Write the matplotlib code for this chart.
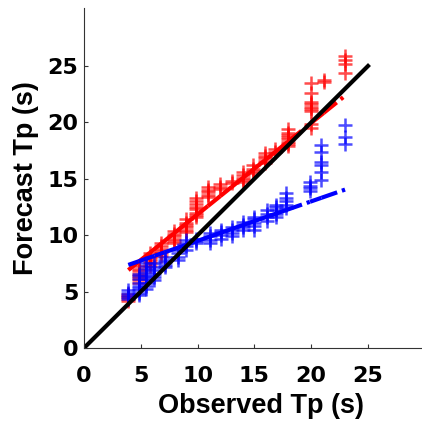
import numpy as np
import matplotlib
matplotlib.use('Agg')
import matplotlib.pyplot as plt
from matplotlib.collections import LineCollection

# observed Tp bins and the forecast Tp values found in each bin
red_obs = [3.9, 4.8, 5.8, 6.8, 7.9, 9.0, 9.9, 10.9, 12.0, 13.0, 14.0, 14.9,
           15.9, 16.8, 18.0, 20.0, 21.1, 23.0]
red_fc = [
    [4.2, 4.35, 4.5, 4.65, 4.8],
    [5.8, 6.0, 6.2, 6.4, 6.6, 6.8, 7.0, 7.3],
    [7.3, 7.5, 7.7, 7.9, 8.1, 8.4],
    [8.2, 8.4, 8.6, 8.8, 9.0, 9.3],
    [9.3, 9.5, 9.7, 9.9, 10.1, 10.4],
    [10.3, 10.5, 10.7, 10.9, 11.1, 11.4],
    [11.6, 11.8, 12.0, 12.3, 12.5, 12.8, 13.0, 13.3],
    [13.4, 13.6, 13.8, 14.0, 14.3],
    [14.1, 14.3, 14.5],
    [14.6, 14.8],
    [14.7, 14.9, 15.1, 15.3, 15.6],
    [15.5, 15.7, 15.9, 16.2],
    [16.4, 16.6, 16.8, 17.0, 17.3],
    [17.4, 17.6],
    [17.9, 18.1, 18.3, 18.5, 18.7, 18.9, 19.1, 19.4],
    [19.5, 19.9, 21.0, 21.2, 21.4, 21.6, 21.8, 22.6, 23.5],
    [23.6, 23.8],
    [24.4, 25.2, 25.5, 25.9],
]

blue_obs = [3.9, 4.8, 5.5, 6.2, 7.1, 8.3, 9.0, 9.9, 11.1, 12.1, 13.0, 14.0,
            15.0, 16.1, 16.9, 17.8, 19.9, 20.9, 23.0]
blue_fc = [
    [4.3, 4.5, 4.7, 4.9, 5.1],
    [4.7, 4.9, 5.1, 5.3, 5.5, 5.8, 6.1, 6.4, 6.6],
    [5.2, 5.5, 5.8, 6.1, 6.4, 6.7, 7.0, 7.3, 7.5],
    [6.0, 6.3, 6.6, 6.9, 7.2, 7.5],
    [7.2, 7.4, 7.6, 7.8, 8.1],
    [7.8, 8.1, 8.4, 8.7],
    [8.7, 9.0, 9.3, 9.6],
    [9.3, 9.5, 9.7],
    [9.3, 9.6, 9.9, 10.2],
    [9.7, 10.0, 10.3, 10.5],
    [9.9, 10.2, 10.5, 10.7],
    [10.5, 10.7, 10.9, 11.2],
    [10.5, 10.8, 11.1, 11.4, 11.6],
    [11.3, 11.6, 11.9, 12.2],
    [11.6, 11.9, 12.2, 12.5, 12.7],
    [12.4, 12.7, 13.0, 13.3, 13.7],
    [13.9, 14.2, 14.4, 14.7],
    [14.9, 15.6, 16.2, 16.5, 17.4, 18.0],
    [18.1, 18.7, 19.8],
]

# linear fits (slope, intercept) and the 1:1 line
red_fit = [0.81, 3.75]
blue_fit = [0.35, 6.0]
one_to_one = [0, 25]
tick_vals = [0, 5, 10, 15, 20, 25]


def expand(obs, fc):
    xs, ys = [], []
    for x, yy in zip(obs, fc):
        xs += [x] * len(yy)
        ys += yy
    return xs, ys


def fit_segments(obs, fit):
    x = np.array(sorted(set(obs)))
    y = fit[0] * x + fit[1]
    pts = np.column_stack([x, y])
    return [pts[i:i+2] for i in range(len(pts) - 1)]


fig = plt.figure(figsize=(4.22, 4.21), dpi=100)
ax = fig.add_axes([84/422, 73/421, 354/422, 340/421])

dash = (0, (4, 1.2, 0.8, 1.2))

rx, ry = expand(red_obs, red_fc)
ax.plot(rx, ry, '+', color='red', ms=10, mew=1.8, alpha=0.7)
ax.add_collection(LineCollection(fit_segments(red_obs, red_fit), colors='red',
                                 linewidths=3, linestyles=[dash]))

bx, by = expand(blue_obs, blue_fc)
ax.plot(bx, by, '+', color='blue', ms=10, mew=1.8, alpha=0.7)
ax.add_collection(LineCollection(fit_segments(blue_obs, blue_fit), colors='blue',
                                 linewidths=3, linestyles=[dash]))

ax.plot(one_to_one, one_to_one, color='black', lw=3)

ax.set_xlim(0, 354/11.36)
ax.set_ylim(0, 340/11.28)
ax.set_xticks(tick_vals)
ax.set_yticks(tick_vals)

for s in ['top', 'right']:
    ax.spines[s].set_visible(False)
for s in ['left', 'bottom']:
    ax.spines[s].set_linewidth(0.8)
    ax.spines[s].set_color('#333333')

ax.tick_params(direction='in', length=3, width=0.8, color='#333333')
ax.tick_params(axis='x', pad=13)
ax.tick_params(axis='y', pad=4)
for lab in ax.get_xticklabels() + ax.get_yticklabels():
    lab.set_fontfamily('DejaVu Sans')
    lab.set_fontweight('bold')
    lab.set_fontsize(16)

ax.set_xlabel('Observed Tp (s)', fontfamily='Liberation Sans', fontweight='bold',
              fontsize=19.5, labelpad=5)
ax.set_ylabel('Forecast Tp (s)', fontfamily='Liberation Sans', fontweight='bold',
              fontsize=19.5, labelpad=6)

fig.savefig('out.png', dpi=100)
